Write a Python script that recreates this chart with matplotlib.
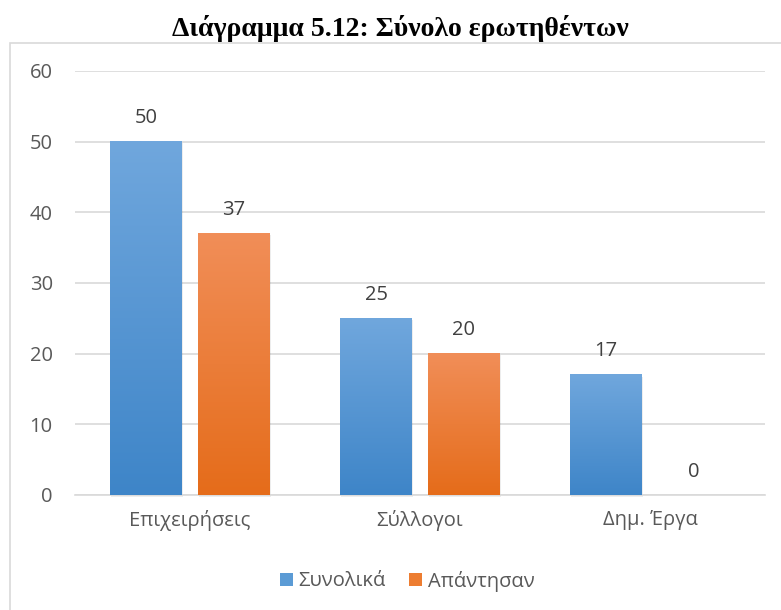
import matplotlib
matplotlib.use("Agg")
import matplotlib.pyplot as plt
import numpy as np
from matplotlib.patches import Rectangle, Patch
from matplotlib.colors import LinearSegmentedColormap

categories = ["Επιχειρήσεις", "Σύλλογοι", "Δημ. Έργα"]
series_names = ["Συνολικά", "Απάντησαν"]
synolika = [50, 25, 17]
apantisan = [37, 20, 0]
yticks = [0, 10, 20, 30, 40, 50, 60]

blue_top, blue_bot = "#70A7DD", "#3E85C8"
orange_top, orange_bot = "#F18E58", "#E56C1A"

plt.rcParams['font.family'] = ['Open Sans', 'DejaVu Sans']
fig = plt.figure(figsize=(7.81, 6.10), dpi=100)
ax = fig.add_axes([75/781, 1-495/610, 690/781, 424/610])

x = np.arange(len(categories))
w = 0.313
off = 0.191
text_color = "#595959"
fs = 14.5

def grad_bars(bars, ctop, cbot):
    cmap = LinearSegmentedColormap.from_list("g", [cbot, ctop])
    grad = np.linspace(0, 1, 256).reshape(-1, 1)
    for b in bars:
        h = b.get_height()
        if h <= 0:
            continue
        x0 = b.get_x()
        sh = Rectangle((x0 + 0.006, -0.25), b.get_width(), h, facecolor="#000000",
                       alpha=0.07, edgecolor="none", zorder=2, clip_on=False)
        ax.add_patch(sh)
        ax.imshow(grad, cmap=cmap, aspect="auto", origin="lower",
                  extent=(x0, x0 + b.get_width(), 0, h), zorder=3)
        b.set_visible(False)

b1 = ax.bar(x - off, synolika, w, color=blue_bot, zorder=3)
b2 = ax.bar(x + off, apantisan, w, color=orange_bot, zorder=3)
grad_bars(b1, blue_top, blue_bot)
grad_bars(b2, orange_top, orange_bot)

for bars, vals in ((b1, synolika), (b2, apantisan)):
    for b, v in zip(bars, vals):
        ax.text(b.get_x() + b.get_width()/2, v + 1.9, str(v), ha="center", va="bottom",
                fontsize=fs, color="#404040", zorder=4)

ax.set_xlim(-0.5, len(categories) - 0.5)
ax.set_ylim(0, 60)
ax.set_yticks(yticks)
ax.set_xticks(x)
ax.set_xticklabels(categories)
ax.tick_params(axis="both", length=0, labelsize=fs, labelcolor=text_color)
ax.tick_params(axis="y", pad=16)
ax.tick_params(axis="x", pad=11)
ax.grid(axis="y", color="#D9D9D9", linewidth=1.2, zorder=0)
ax.set_axisbelow(True)
for s in ["top", "right", "left"]:
    ax.spines[s].set_visible(False)
ax.spines["bottom"].set_color("#D9D9D9")
ax.spines["bottom"].set_linewidth(1.2)

handles = [Patch(facecolor="#5B9BD5", edgecolor="none"), Patch(facecolor="#ED7D31", edgecolor="none")]
fig.legend(handles, series_names, loc="center", bbox_to_anchor=(407/781, 1-581/610), ncol=2,
           frameon=False, fontsize=fs, labelcolor=text_color, handlelength=0.65, handleheight=0.65,
           handletextpad=0.25, columnspacing=1.2)

fig.add_artist(Rectangle((10/781, -0.05), 1.0, 1 - 43/610 + 0.05, transform=fig.transFigure,
                         facecolor="none", edgecolor="#D9D9D9", linewidth=1.2))

fig.text(400/781, 1-29/610, "Διάγραμμα 5.12: Σύνολο ερωτηθέντων", ha="center", va="center",
         fontsize=20, fontweight="bold", family=["Liberation Serif", "DejaVu Serif"], color="black")

fig.savefig("out.png", dpi=100)
